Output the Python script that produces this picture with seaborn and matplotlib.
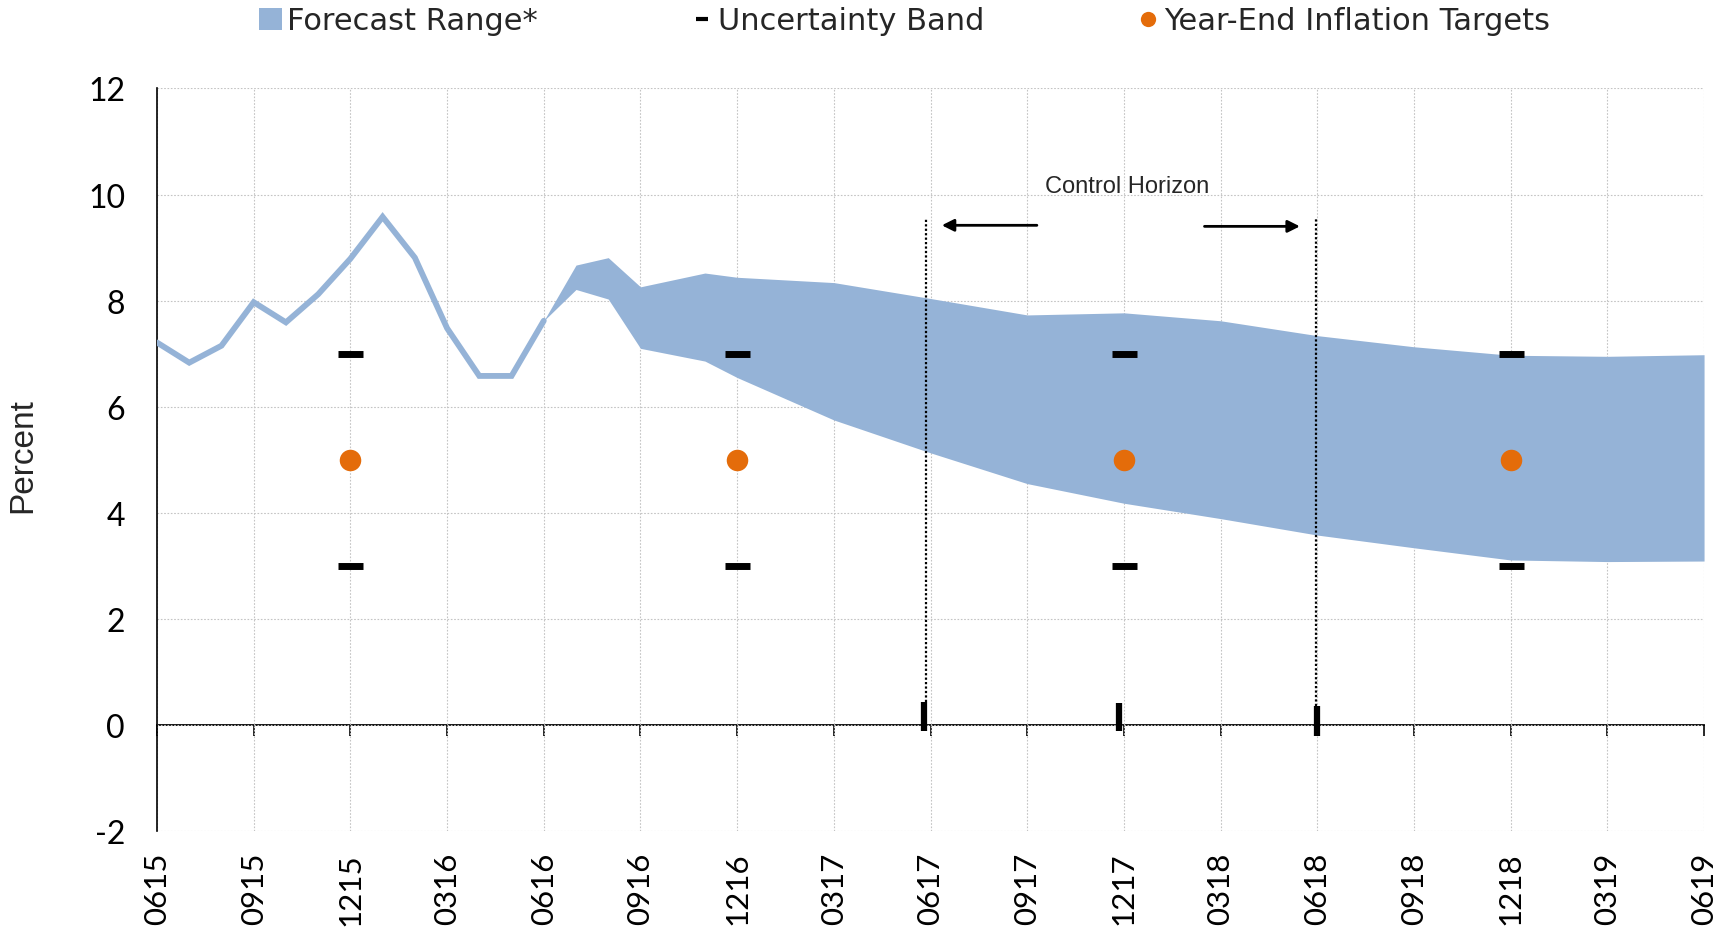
import numpy as np
import pandas as pd
import matplotlib
matplotlib.use("Agg")
import matplotlib.pyplot as plt
import seaborn as sns
from matplotlib.patches import Patch
from matplotlib.lines import Line2D

# ---------------- data ----------------
hist_months = ["0615", "0715", "0815", "0915", "1015", "1115", "1215",
               "0116", "0216", "0316", "0416", "0516", "0616"]
hist_values = [7.21, 6.83, 7.15, 7.97, 7.59, 8.12, 8.79,
               9.58, 8.81, 7.48, 6.58, 6.58, 7.62]

fan_months = ["0616", "0716", "0816", "0916", "1116", "1216", "0317", "0617",
              "0917", "1217", "0318", "0618", "0918", "1218", "0319", "0619"]
fan_upper = [7.62, 8.67, 8.81, 8.26, 8.52, 8.44, 8.34, 8.04,
             7.73, 7.77, 7.62, 7.34, 7.13, 6.97, 6.95, 6.98]
fan_lower = [7.62, 8.21, 8.03, 7.10, 6.86, 6.55, 5.75, 5.13,
             4.55, 4.18, 3.89, 3.58, 3.34, 3.11, 3.08, 3.09]

target_months = ["1215", "1216", "1217", "1218"]
target_values = [5, 5, 5, 5]
band_upper = [7, 7, 7, 7]
band_lower = [3, 3, 3, 3]

tick_labels = ["0615", "0915", "1215", "0316", "0616", "0916", "1216", "0317",
               "0617", "0917", "1217", "0318", "0618", "0918", "1218", "0319", "0619"]
y_ticks = [-2, 0, 2, 4, 6, 8, 10, 12]

horizon_lines = [23.86, 35.97]          # month positions of dotted lines
horizon_top = 9.55
bar_positions = [23.8, 29.85, 36.0]     # short black bars on the zero line
bar_bottom = [-0.12, -0.12, -0.2]
bar_top = [0.44, 0.42, 0.35]


def midx(s):
    m, y = int(s[:2]), int(s[2:])
    return (y - 15) * 12 + m - 6


BLUE = "#95B3D7"
ORANGE = "#E46C0A"

sns.set_style("white")
plt.rcParams["font.family"] = ["Lato", "DejaVu Sans"]

fig = plt.figure(figsize=(17.33, 9.29), dpi=100)
ax = fig.add_axes([0.0906, 0.1044, 0.8927, 0.7993])

hist_df = pd.DataFrame({"x": [midx(m) for m in hist_months], "y": hist_values})
fan_df = pd.DataFrame({"x": [midx(m) for m in fan_months],
                       "lo": fan_lower, "hi": fan_upper})
tgt_df = pd.DataFrame({"x": [midx(m) for m in target_months],
                       "t": target_values, "up": band_upper, "lo": band_lower})

# fan
ax.fill_between(fan_df["x"], fan_df["lo"], fan_df["hi"], color=BLUE, lw=0, zorder=2)
# history line
sns.lineplot(data=hist_df, x="x", y="y", ax=ax, color=BLUE, lw=4.2, zorder=3,
             solid_joinstyle="miter")

# uncertainty band dashes
for col in ["up", "lo"]:
    ax.plot(tgt_df["x"], tgt_df[col], ls="none", marker="_", ms=18, mew=5,
            color="black", zorder=5)
# targets
sns.scatterplot(data=tgt_df, x="x", y="t", ax=ax, color=ORANGE, s=240,
                linewidth=0, zorder=6)

# control horizon
ax.vlines(horizon_lines, [bar_top[0], bar_top[2]], horizon_top, colors="black",
          linestyles=(0, (1, 1)), lw=1.6, zorder=4)
ax.vlines(bar_positions, bar_bottom, bar_top, colors="black", lw=4.5, zorder=7)
ax.annotate("", xy=(24.35, 9.42), xytext=(27.3, 9.42),
            arrowprops=dict(arrowstyle="-|>", color="black", lw=2,
                            mutation_scale=18, shrinkA=0, shrinkB=0))
ax.annotate("", xy=(35.46, 9.40), xytext=(32.5, 9.40),
            arrowprops=dict(arrowstyle="-|>", color="black", lw=2,
                            mutation_scale=18, shrinkA=0, shrinkB=0))
ax.text(30.1, 10.16, "Control Horizon", ha="center", va="center",
        fontsize=17, family=["Liberation Sans", "DejaVu Sans"])

# axes styling
xt = [midx(t) for t in tick_labels]
ax.set_xlim(0, 48)
ax.set_ylim(-2, 12)
ax.set_xticks(xt)
ax.set_xticklabels(tick_labels)
ax.set_yticks(y_ticks)
ax.set_yticklabels([str(v) for v in y_ticks])
ax.set_xlabel("")
ax.set_ylabel("")
ax.grid(True, color="#C4C4C4", linestyle=(0, (1.5, 1.5)), lw=0.8, zorder=0)
ax.set_axisbelow(True)
for s in ["top", "right", "bottom"]:
    ax.spines[s].set_visible(False)
ax.spines["left"].set_color("black")
ax.spines["left"].set_linewidth(1.2)
ax.tick_params(axis="x", length=0, pad=15, labelsize=22.5, labelrotation=90,
               labelcolor="black")
ax.tick_params(axis="y", length=10, width=1.2, color="black", direction="out",
               pad=13, labelsize=23, labelcolor="black")

sec = ax.secondary_xaxis(2 / 14)
sec.set_xticks(xt)
sec.set_xticklabels([])
sec.tick_params(axis="x", direction="out", length=8, width=1.2, color="black")
sec.spines["bottom"].set_color("black")
sec.spines["bottom"].set_linewidth(1.3)

fig.text(23 / 1733, 0.51, "Percent", rotation=90, ha="center", va="center",
         fontsize=24, family=["Liberation Sans", "DejaVu Sans"])

handles = [
    Patch(facecolor=BLUE, edgecolor="none"),
    Line2D([], [], ls="none", marker="_", ms=8, mew=3, color="black"),
    Line2D([], [], ls="none", marker="o", ms=11, color=ORANGE, mew=0),
]
labels = ["Forecast Range*", "Uncertainty Band", "Year-End Inflation Targets"]
fig.legend(handles, labels, loc="center", bbox_to_anchor=(0.522, 1 - 22 / 929),
           ncol=3, frameon=False, prop={"family": ["DejaVu Sans"], "size": 22},
           columnspacing=5.0, handlelength=0.75, handleheight=0.7,
           handletextpad=0.15, borderaxespad=0)

fig.savefig("out.png", dpi=100)
